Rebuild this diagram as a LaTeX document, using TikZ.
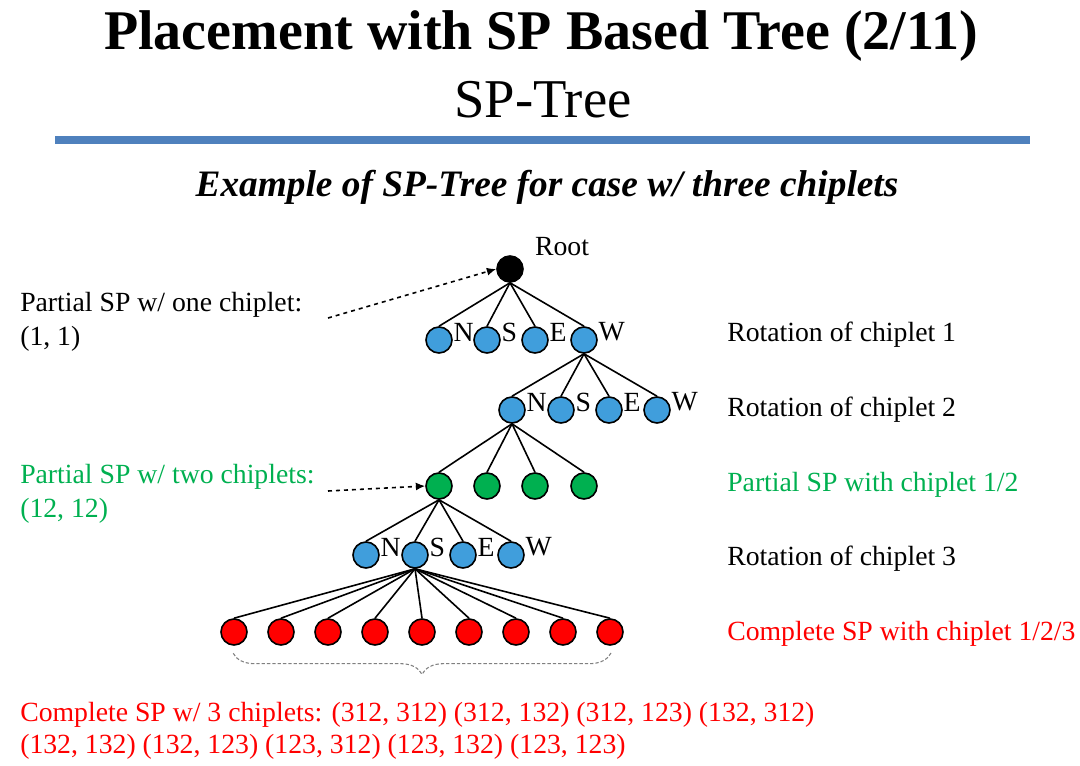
\documentclass[tikz,border=0pt]{standalone}
\usepackage{fontspec}
\setmainfont{Liberation Serif}
\usetikzlibrary{arrows.meta,decorations.pathreplacing}

\definecolor{cblue}{RGB}{64,158,220}
\definecolor{cgreen}{RGB}{0,176,80}
\definecolor{cred}{RGB}{255,0,0}
\definecolor{cbar}{RGB}{79,129,189}
\tikzset{
  sptree/.style={x=0.75pt,y=-0.75pt,font=\fontsize{20.8}{25.5}\selectfont},
  vtx/.style={circle,draw,line width=1.2pt,minimum size=19.5pt,inner sep=0pt},
  root/.style={vtx,fill=black},
  rot/.style={vtx,fill=cblue},
  part/.style={vtx,fill=cgreen},
  full/.style={vtx,fill=cred},
  dirlbl/.style={label={[anchor=west,inner sep=0pt,xshift=0.5pt,yshift=6pt]east:#1}},
  edge/.style={line width=1.2pt},
  hint/.style={dashed,line width=1.2pt,-{Latex[length=7pt,width=6pt]}},
  side/.style={anchor=west,inner sep=0pt,align=left}
}

\begin{document}
\begin{tikzpicture}[sptree]
    \useasboundingbox (0,0) rectangle (1080,766);
    % heading
    \node[font=\fontsize{42}{42}\selectfont\bfseries] (title) at (541,36) {Placement with SP Based Tree (2/11)};
    \node[font=\fontsize{41}{41}\selectfont] (sub) at (543,100) {SP-Tree};
    \fill[cbar] (55,136) rectangle (1030,144);
    \node[font=\fontsize{28}{28}\selectfont\bfseries\itshape] (ex) at (547,187) {Example of SP-Tree for case w/ three chiplets};

    % tree
    \node[root] (root) at (510,269) {};
    \node (rootlbl) at (562,247) {Root};
    \foreach \x/\d [count=\i] in {439/N,487/S,535/E,584/W}
      \node[rot,dirlbl=\d] (a\i) at (\x,340) {};
    \foreach \x/\d [count=\i] in {512/N,561/S,609/E,657/W}
      \node[rot,dirlbl=\d] (b\i) at (\x,410) {};
    \foreach \x [count=\i] in {439,487,535,584}
      \node[part] (c\i) at (\x,486) {};
    \foreach \x/\d [count=\i] in {366/N,415/S,463/E,511/W}
      \node[rot,dirlbl=\d] (d\i) at (\x,555) {};
    \foreach \i in {1,...,9}
      \node[full] (e\i) at ({187+47*\i},632) {};

    \foreach \i in {1,...,4} {
      \draw[edge] (root.south) -- (a\i.north);
      \draw[edge] (a4.south) -- (b\i.north);
      \draw[edge] (b1.south) -- (c\i.north);
      \draw[edge] (c1.south) -- (d\i.north);
    }
    \foreach \i in {1,...,9}
      \draw[edge] (d2.south) -- (e\i.north);

    \draw[gray,dash pattern=on 2.5pt off 1.5pt,line width=0.8pt,decorate,decoration={brace,amplitude=16pt}]
      (611,653) -- (233,653);

    % notes on the left
    \node[side] (one) at (20,322) {Partial SP w/ one chiplet:\\(1, 1)};
    \node[side,text=cgreen] (two) at (20,494) {Partial SP w/ two chiplets:\\(12, 12)};
    \coordinate (p1) at (328,318);
    \coordinate (p2) at (328,491);
    \draw[hint] (p1) -- (root.west);
    \draw[hint] (p2) -- (c1.west);

    % notes on the right
    \node[side] (r1) at (727,335) {Rotation of chiplet 1};
    \node[side] (r2) at (727,410) {Rotation of chiplet 2};
    \node[side,text=cgreen] (r3) at (727,485) {Partial SP with chiplet 1/2};
    \node[side] (r4) at (727,559) {Rotation of chiplet 3};
    \node[side,text=cred] (r5) at (727,634) {Complete SP with chiplet 1/2/3};

    % result
    \node[side,text=cred,font=\fontsize{20.8}{24}\selectfont] (res) at (20,731)
      {Complete SP w/ 3 chiplets: (312, 312) (312, 132) (312, 123) (132, 312)\\(132, 132) (132, 123) (123, 312) (123, 132) (123, 123)};
\end{tikzpicture}
\end{document}
